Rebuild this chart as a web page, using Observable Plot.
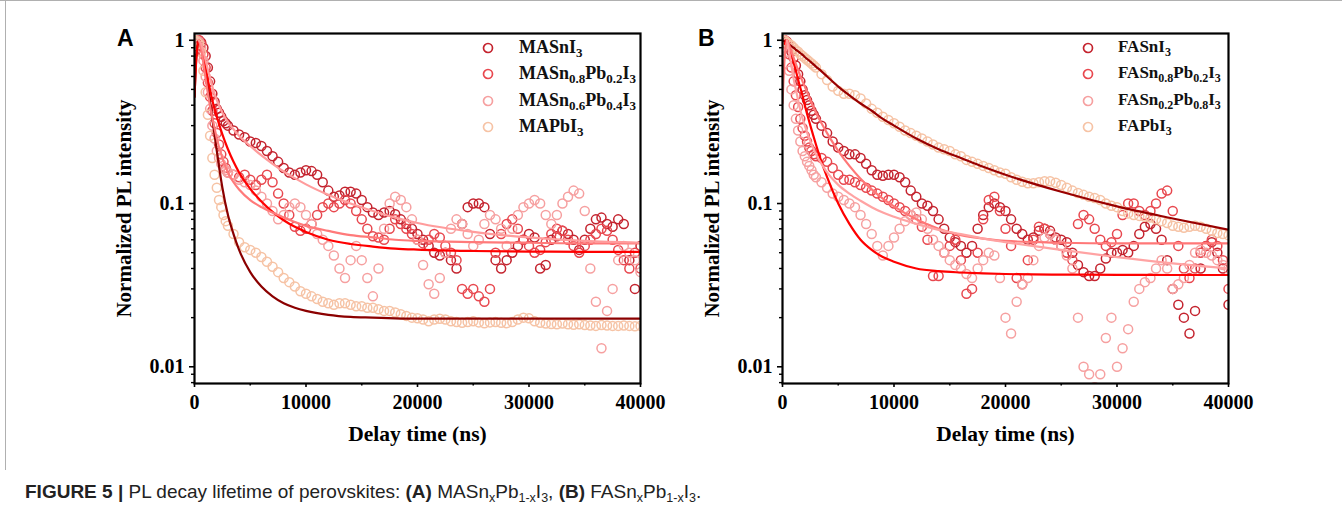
<!DOCTYPE html>
<html>
<head>
<meta charset="utf-8">
<script src="https://cdn.jsdelivr.net/npm/d3@7"></script>
<script src="https://cdn.jsdelivr.net/npm/@observablehq/plot@0.6"></script>
<style>
  body { margin: 0; background: #fff; }
  #root { position: relative; width: 1342px; height: 513px; overflow: hidden; background: #fff; }
  .abs { position: absolute; }
  .leg { position: absolute; font-family: "Liberation Serif", "Times New Roman", serif; font-weight: bold; font-size: 18px; line-height: 20px; white-space: nowrap; color: #111; }
  .leg sub { font-size: 13px; vertical-align: -4px; line-height: 0; }
  .leg.b { font-size: 17px; }
  .leg.b sub { font-size: 12px; }
  .letter { position: absolute; font-family: "Liberation Sans", Arial, sans-serif; font-weight: bold; font-size: 23px; line-height: 24px; color: #000; }
  #caption { position: absolute; left: 25px; top: 481px; font-family: "Liberation Sans", Arial, sans-serif; font-size: 19px; color: #222; white-space: nowrap; }
  #caption sub { font-size: 12.5px; vertical-align: -4px; line-height: 0; }
</style>
</head>
<body>
<div id="root">
  <div class="abs" style="left:0;top:0;width:1342px;height:1px;background:#b0b0b0"></div>
  <div class="abs" style="left:5px;top:0;width:1px;height:470px;background:#b0b0b0"></div>
  <div id="pa" class="abs" style="left:100px;top:0"></div>
  <div id="pb" class="abs" style="left:688px;top:0"></div>
  <div class="letter" style="left:117px;top:26px">A</div>
  <div class="letter" style="left:698px;top:26px">B</div>
  <div id="caption"><b>FIGURE 5 |</b> PL decay lifetime of perovskites: <b>(A)</b> MASn<sub>x</sub>Pb<sub>1-x</sub>I<sub>3</sub>, <b>(B)</b> FASn<sub>x</sub>Pb<sub>1-x</sub>I<sub>3</sub>.</div>
</div>
<script>
// ---------- data ----------
const delay = [0,200,400,600,800,1000,1200,1400,1600,1800,2000,2200,2400,2600,2800,3000,
  3500,4000,4500,5000,5500,6000,6500,7000,7500,8000,
  8500,9000,9500,10000,10500,11000,11500,12000,12500,13000,
  13500,14000,14500,15000,15500,16000,16500,17000,17500,18000,
  18500,19000,19500,20000,20500,21000,21500,22000,22500,23000,
  23500,24000,24500,25000,25500,26000,26500,27000,27500,28000,
  28500,29000,29500,30000,30500,31000,31500,32000,32500,33000,
  33500,34000,34500,35000,35500,36000,36500,37000,37500,38000,
  38500,39000,39500,40000];

const labelsA = ["MASnI<sub>3</sub>", "MASn<sub>0.8</sub>Pb<sub>0.2</sub>I<sub>3</sub>", "MASn<sub>0.6</sub>Pb<sub>0.4</sub>I<sub>3</sub>", "MAPbI<sub>3</sub>"];
const labelsB = ["FASnI<sub>3</sub>", "FASn<sub>0.8</sub>Pb<sub>0.2</sub>I<sub>3</sub>", "FASn<sub>0.2</sub>Pb<sub>0.8</sub>I<sub>3</sub>", "FAPbI<sub>3</sub>"];

// panel A measured (normalized PL)
const maSn = [0.87,0.95,1.0,0.97,0.9,0.8,0.68,0.56,0.47,0.42,
  0.38,0.36,0.34,0.32,0.31,0.3,
  0.28,0.265,0.255,0.24,0.235,0.225,0.21,0.195,0.18,0.165,
  0.155,0.15,0.155,0.16,0.158,0.15,0.135,0.12,0.11,0.112,
  0.118,0.118,0.115,0.105,0.095,0.088,0.085,0.088,0.09,0.086,
  0.08,0.075,0.07,0.065,0.06,0.055,0.05,0.048,0.05,0.045,
  0.04,0.075,0.095,0.1,0.1,0.095,0.065,0.045,0.04,0.045,
  0.05,0.055,0.06,0.065,0.062,0.04,0.042,0.06,0.063,0.068,
  0.065,0.06,0.052,0.06,0.07,0.08,0.082,0.075,0.072,0.08,
  0.075,0.045,0.03,0.055];
const maSn08 = [0.85,0.92,1.0,0.95,0.82,0.68,0.55,0.45,0.37,0.31,
  0.27,0.23,0.2,0.18,0.165,0.155,
  0.15,0.145,0.15,0.14,0.13,0.14,0.15,0.135,0.115,0.1,
  0.085,0.072,0.068,0.07,0.075,0.085,0.095,0.1,0.095,0.1,
  0.105,0.1,0.09,0.08,0.07,0.063,0.062,0.06,0.07,0.08,
  0.075,0.07,0.065,0.06,0.057,0.06,0.065,0.062,0.055,0.05,
  0.045,0.03,0.028,0.03,0.027,0.025,0.03,0.05,0.065,0.075,
  0.08,0.07,0.06,0.055,0.05,0.052,0.058,0.065,0.07,0.068,
  0.06,0.055,0.05,0.055,0.06,0.065,0.07,0.068,0.06,0.052,
  0.045,0.04,0.05,0.04];
const maSn06 = [0.95,1.0,0.98,0.9,0.75,0.6,0.48,0.38,0.3,0.25,
  0.21,0.19,0.175,0.165,0.16,0.155,
  0.15,0.14,0.135,0.13,0.12,0.11,0.1,0.09,0.08,0.085,
  0.095,0.1,0.095,0.085,0.075,0.065,0.06,0.055,0.048,0.04,
  0.035,0.045,0.055,0.045,0.035,0.027,0.04,0.07,0.1,0.11,
  0.105,0.095,0.08,0.06,0.042,0.032,0.028,0.035,0.05,0.07,
  0.08,0.075,0.065,0.055,0.06,0.075,0.085,0.08,0.07,0.055,
  0.07,0.085,0.095,0.1,0.105,0.1,0.085,0.075,0.085,0.1,
  0.11,0.12,0.115,0.09,0.04,0.025,0.013,0.022,0.03,0.045,
  0.055,0.05,0.045,0.038];
const maPb = [1.0,0.98,0.95,0.85,0.65,0.48,0.35,0.26,0.19,0.15,
  0.125,0.105,0.095,0.085,0.078,0.073,
  0.065,0.058,0.054,0.052,0.05,0.047,0.044,0.041,0.038,0.035,
  0.033,0.031,0.029,0.028,0.027,0.026,0.025,0.0245,0.024,0.0245,
  0.0245,0.024,0.0235,0.0235,0.023,0.023,0.0225,0.022,0.022,0.0215,
  0.021,0.0205,0.02,0.0198,0.0195,0.019,0.0195,0.0197,0.0195,0.019,
  0.0188,0.0186,0.0188,0.019,0.0187,0.0185,0.0187,0.0188,0.0186,0.0185,
  0.0188,0.0195,0.02,0.0198,0.019,0.0186,0.0184,0.0183,0.0182,0.0184,
  0.0182,0.0181,0.0182,0.018,0.0179,0.0178,0.018,0.0179,0.0178,0.0178,
  0.0179,0.0178,0.0177,0.0178];

// panel B measured
const faSn = [0.95,1.0,0.98,0.92,0.85,0.78,0.7,0.62,0.56,0.5,
  0.46,0.43,0.4,0.37,0.35,0.33,
  0.3,0.27,0.24,0.22,0.21,0.2,0.2,0.19,0.175,0.16,
  0.15,0.148,0.15,0.15,0.145,0.135,0.12,0.11,0.1,0.097,
  0.09,0.08,0.07,0.062,0.058,0.055,0.05,0.055,0.07,0.085,
  0.095,0.1,0.095,0.09,0.08,0.07,0.065,0.06,0.062,0.068,
  0.07,0.068,0.062,0.06,0.058,0.05,0.042,0.038,0.036,0.036,
  0.04,0.046,0.05,0.05,0.052,0.05,0.055,0.065,0.072,0.075,
  0.07,0.06,0.045,0.03,0.024,0.02,0.016,0.022,0.04,0.055,
  0.058,0.05,0.04,0.024];
const faSn08 = [0.95,1.0,0.95,0.82,0.68,0.56,0.46,0.39,0.33,0.29,
  0.26,0.24,0.22,0.21,0.2,0.195,
  0.19,0.18,0.165,0.15,0.14,0.14,0.135,0.13,0.125,0.12,
  0.115,0.11,0.105,0.1,0.095,0.09,0.085,0.08,0.072,0.06,
  0.036,0.036,0.05,0.055,0.06,0.045,0.028,0.03,0.05,0.08,
  0.105,0.11,0.09,0.07,0.055,0.035,0.032,0.045,0.06,0.072,
  0.07,0.065,0.06,0.055,0.05,0.045,0.075,0.085,0.08,0.07,
  0.06,0.055,0.058,0.065,0.085,0.1,0.1,0.09,0.085,0.09,
  0.1,0.115,0.12,0.09,0.055,0.04,0.035,0.04,0.05,0.055,
  0.06,0.055,0.045,0.03];
const faSn02 = [0.9,1.0,0.85,0.65,0.5,0.4,0.33,0.28,0.24,0.21,
  0.195,0.18,0.17,0.16,0.15,0.145,
  0.135,0.125,0.115,0.11,0.105,0.1,0.095,0.085,0.075,0.065,
  0.055,0.048,0.055,0.062,0.07,0.078,0.085,0.088,0.08,0.07,
  0.06,0.055,0.05,0.045,0.042,0.04,0.037,0.035,0.04,0.045,
  0.05,0.048,0.035,0.02,0.016,0.025,0.032,0.035,0.045,0.055,
  0.062,0.065,0.06,0.055,0.048,0.04,0.02,0.01,0.009,0.0075,
  0.009,0.015,0.02,0.01,0.013,0.017,0.025,0.03,0.033,0.035,
  0.04,0.045,0.04,0.03,0.032,0.035,0.042,0.05,0.052,0.05,
  0.048,0.045,0.042,0.04];
const faPb = [1.0,0.99,0.97,0.95,0.93,0.9,0.87,0.85,0.82,0.8,
  0.78,0.76,0.74,0.72,0.7,0.68,
  0.62,0.57,0.52,0.49,0.47,0.47,0.46,0.44,0.41,0.38,
  0.36,0.34,0.325,0.31,0.295,0.28,0.27,0.26,0.25,0.24,
  0.23,0.22,0.215,0.21,0.2,0.195,0.185,0.18,0.175,0.17,
  0.165,0.16,0.155,0.152,0.145,0.14,0.136,0.133,0.133,0.135,
  0.137,0.137,0.134,0.13,0.125,0.12,0.116,0.113,0.11,0.108,
  0.105,0.1,0.097,0.095,0.09,0.087,0.085,0.084,0.083,0.082,
  0.08,0.078,0.076,0.073,0.072,0.071,0.072,0.073,0.072,0.07,
  0.068,0.066,0.065,0.064];

// fitted decay curves
const fitTimes = [0,200,400,600,800,1000,1250,1500,1750,2000,2500,3000,3500,4000,
  5000,6000,7000,8000,9000,10000,12000,14000,16000,18000,20000,25000,30000,35000,40000];
const fitA1 = [0.45,0.85,1.0,0.93,0.8,0.66,0.5,0.37,0.28,0.21,0.125,0.085,0.065,0.052,
  0.038,0.031,0.027,0.0245,0.023,0.022,0.0208,0.0202,0.02,0.0198,0.0197,0.0197,0.0197,0.0197,0.0197];
const fitA2 = [0.45,0.85,1.0,0.9,0.78,0.67,0.55,0.46,0.39,0.34,0.265,0.215,0.18,0.155,
  0.123,0.103,0.089,0.079,0.072,0.067,0.06,0.0565,0.0545,0.053,0.0522,0.0512,0.0508,0.0506,0.0505];
const fitA3 = [null,null,1.0,0.88,0.72,0.58,0.45,0.36,0.3,0.25,0.19,0.155,0.135,0.122,
  0.105,0.095,0.088,0.082,0.077,0.073,0.068,0.064,0.062,0.06,0.059,0.058,0.0575,0.057,0.057];
const fitA4 = [null,null,1.0,0.95,0.85,0.75,0.64,0.55,0.48,0.43,0.36,0.315,0.285,0.26,
  0.225,0.197,0.175,0.157,0.143,0.131,0.113,0.1,0.09,0.082,0.076,0.067,0.062,0.059,0.0575];
const fitB1 = [1.0,0.98,0.96,0.94,0.92,0.9,0.87,0.845,0.82,0.79,0.74,0.69,0.645,0.6,
  0.52,0.46,0.41,0.37,0.33,0.3,0.25,0.215,0.19,0.168,0.15,0.118,0.096,0.081,0.069];
const fitB2 = [null,0.95,1.0,0.92,0.82,0.73,0.63,0.54,0.47,0.4,0.3,0.23,0.18,0.145,
  0.1,0.075,0.06,0.052,0.047,0.044,0.04,0.0385,0.0378,0.0373,0.037,0.0367,0.0366,0.0365,0.0365];
const fitB3 = [0.41,0.8,1.0,0.93,0.85,0.78,0.7,0.63,0.57,0.52,0.43,0.36,0.31,0.27,
  0.21,0.17,0.142,0.122,0.107,0.096,0.08,0.07,0.064,0.061,0.059,0.0575,0.057,0.057,0.057];
const fitB4 = [null,null,1.0,0.85,0.7,0.58,0.48,0.4,0.34,0.3,0.24,0.2,0.175,0.155,
  0.13,0.115,0.104,0.095,0.088,0.083,0.075,0.069,0.065,0.061,0.058,0.052,0.047,0.043,0.04];

const xTicks = [0,10000,20000,30000,40000];
const xMinor = [5000,15000,25000,35000];
const yTicks = [0.01,0.1,1];
const yTickLabels = ["0.01","0.1","1"];
const yMinor = [0.008,0.009,0.02,0.03,0.04,0.05,0.06,0.07,0.08,0.09,0.2,0.3,0.4,0.5,0.6,0.7,0.8,0.9];

const dotColors = ["#c4232e", "#e8484f", "#f6a0a0", "#f6c3a5"];
const fitColorsA = ["#8b0000", "#ff0000", "#ff7a7a", "#ff9c9c"];
const fitColorsB = ["#990000", "#ff0000", "#ff7777", "#ffa3a3"];

// ---------- drawing ----------
const serif = "'Liberation Serif', 'Times New Roman', serif";

function panel(series, fits, fitColors, width) {
  const dots = series.map((vals, k) => Plot.dot(
    delay.map((t, i) => ({t, v: vals[i]})),
    {x: "t", y: "v", r: 4.5, stroke: dotColors[k], strokeWidth: 1.5, fill: "none", clip: true}));
  const lines = fits.map((vals, k) => Plot.line(
    fitTimes.map((t, i) => ({t, v: vals[i]})).filter(d => d.v != null),
    {x: "t", y: "v", stroke: fitColors[k], strokeWidth: 2.2, curve: "monotone-x", clip: true}));
  return Plot.plot({
    width, height: 460,
    marginLeft: 94, marginRight: width - 94 - 446, marginTop: 33, marginBottom: 77,
    style: {fontFamily: serif, fontWeight: "bold", fontSize: "20px", color: "#000", background: "transparent", overflow: "visible"},
    x: {domain: [0, 40000]},
    y: {type: "log", domain: [0.0079, 1.1]},
    marks: [
      ...dots,
      ...lines,
      Plot.axisX({ticks: xTicks, tickSize: 4, tickPadding: 7, tickFormat: d => String(d), label: null, strokeWidth: 1.6}),
      Plot.axisX({ticks: xMinor, tickSize: 2.5, tickFormat: () => "", label: null, strokeWidth: 1.6}),
      Plot.axisY({ticks: yTicks, tickSize: 5, tickPadding: 5, tickFormat: d => yTickLabels[yTicks.indexOf(d)], label: null, strokeWidth: 1.6}),
      Plot.axisY({ticks: yMinor, tickSize: 3, tickFormat: () => "", label: null, strokeWidth: 1.4}),
      Plot.frame({stroke: "#000", strokeWidth: 2.2}),
      Plot.text(["Delay time (ns)"], {frameAnchor: "bottom", dy: 57, fontSize: 21.5}),
      Plot.text(["Normalized PL intensity"], {frameAnchor: "left", dx: -70, rotate: -90, textAnchor: "middle", fontSize: 21})
    ]
  });
}

document.getElementById("pa").appendChild(panel([maSn, maSn08, maSn06, maPb], [fitA1, fitA2, fitA3, fitA4], fitColorsA, 580));
document.getElementById("pb").appendChild(panel([faSn, faSn08, faSn02, faPb], [fitB1, fitB2, fitB3, fitB4], fitColorsB, 582));

// legends
const rowY = [47.5, 74, 100.5, 127];
function legend(cx, tx, labels, cls) {
  const root = document.getElementById("root");
  labels.forEach((lab, i) => {
    const s = document.createElementNS("http://www.w3.org/2000/svg", "svg");
    s.setAttribute("width", 14); s.setAttribute("height", 14);
    s.style.position = "absolute"; s.style.left = (cx - 7) + "px"; s.style.top = (rowY[i] - 7) + "px";
    const c = document.createElementNS("http://www.w3.org/2000/svg", "circle");
    c.setAttribute("cx", 7); c.setAttribute("cy", 7); c.setAttribute("r", 4.5);
    c.setAttribute("fill", "none"); c.setAttribute("stroke", dotColors[i]); c.setAttribute("stroke-width", 1.7);
    s.appendChild(c); root.appendChild(s);
    const d = document.createElement("div");
    d.className = "leg " + cls; d.style.left = tx + "px"; d.style.top = (rowY[i] - 11) + "px";
    d.innerHTML = lab; root.appendChild(d);
  });
}
legend(488, 519, labelsA, "a");
legend(1088, 1118, labelsB, "b");
</script>
</body>
</html>
